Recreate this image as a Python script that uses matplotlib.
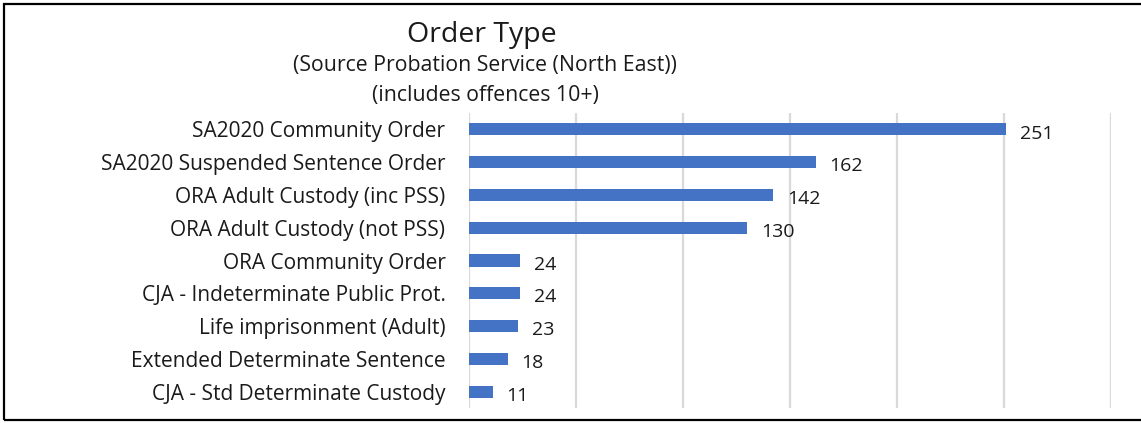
import matplotlib
matplotlib.use("Agg")
import matplotlib.pyplot as plt
from matplotlib.patches import Rectangle

categories = [
    "SA2020 Community Order",
    "SA2020 Suspended Sentence Order",
    "ORA Adult Custody (inc PSS)",
    "ORA Adult Custody (not PSS)",
    "ORA Community Order",
    "CJA - Indeterminate Public Prot.",
    "Life imprisonment (Adult)",
    "Extended Determinate Sentence",
    "CJA - Std Determinate Custody",
]
values = [251, 162, 142, 130, 24, 24, 23, 18, 11]
xticks = [0, 50, 100, 150, 200, 250, 300]

plt.rcParams['font.family'] = ['Open Sans', 'DejaVu Sans']

W, H = 1141, 423
fig = plt.figure(figsize=(W / 100, H / 100), dpi=100)
fig.patch.set_facecolor("white")

# outer frame (right edge cropped in reference)
fig.add_artist(Rectangle((4 / W, 3 / H), 1.2, (H - 3 - 4) / H, transform=fig.transFigure,
                         fill=False, edgecolor="black", linewidth=1.6))

ax = fig.add_axes([469 / W, 1 - 408 / H, (1111 - 469) / W, (408 - 113) / H])
y = list(range(len(categories)))
ax.barh(y, values, height=0.37, color="#4472C4", zorder=3)
ax.set_ylim(len(categories) - 0.5, -0.5)
ax.set_xlim(0, 300)
ax.set_xticks(xticks)
ax.set_xticklabels([])
ax.tick_params(axis="both", length=0)
ax.grid(axis="x", color="#D9D9D9", linewidth=1.6, zorder=0)
for s in ax.spines.values():
    s.set_visible(False)
ax.set_yticks(y)
ax.set_yticklabels(categories, fontsize=15, color="#1a1a1a")
ax.tick_params(axis="y", pad=17)

for yi, v in zip(y, values):
    ax.annotate(str(v), (v, yi), xytext=(10, -3), textcoords="offset points",
                ha="left", va="center", fontsize=14, color="#1a1a1a")

fig.text(482 / W, 1 - 35 / H, "Order Type", ha="center", va="center", fontsize=20.5, color="#1a1a1a")
fig.text(485 / W, 1 - 66 / H, "(Source Probation Service (North East))", ha="center", va="center",
         fontsize=15.3, color="#1a1a1a")
fig.text(485 / W, 1 - 96 / H, "(includes offences 10+)", ha="center", va="center",
         fontsize=15.3, color="#1a1a1a")

fig.savefig("out.png", dpi=100, facecolor="white")
